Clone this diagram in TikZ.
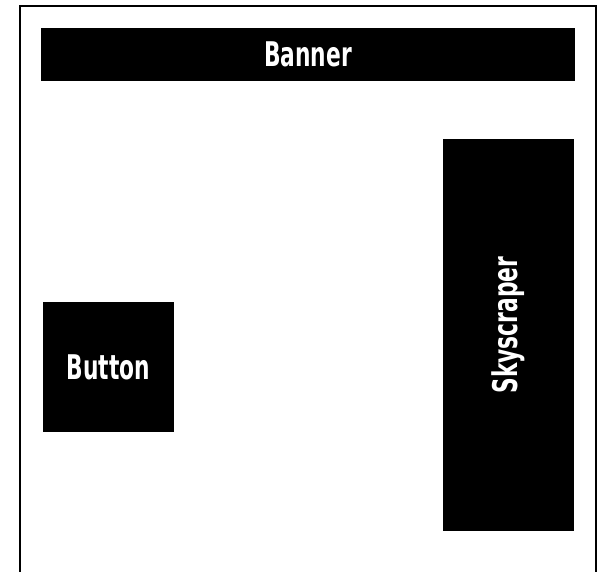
\documentclass[tikz,border=0pt]{standalone}
\usepackage{fontspec}
\newfontfamily\condfont[FakeStretch=0.64]{DejaVu Sans}
\tikzset{
  adbox/.style={fill=black, text=white, inner sep=0pt, font=\condfont\bfseries\fontsize{34}{36}\selectfont},
}
\begin{document}
\begin{tikzpicture}[x=1pt, y=-1pt]
                 \useasboundingbox (0,0) rectangle (599,572);
                 \draw[line width=1.5pt] (20,572) -- (20,6) -- (596,6) -- (596,572);
                 
                 \node[adbox, minimum width=534pt, minimum height=53pt] (banner) at (308,54.5) {Banner};
                 \node[adbox, minimum width=131pt, minimum height=130pt] (button) at (108.5,367) {Button};
                 \node[adbox, minimum width=131pt, minimum height=392pt] (skyscraper) at (508.5,335) {};
                 \node[text=white, rotate=90, inner sep=0pt, font=\condfont\bfseries\fontsize{34}{36}\selectfont] at ([yshift=10pt]skyscraper.center) {Skyscraper};
            \end{tikzpicture}
\end{document}
